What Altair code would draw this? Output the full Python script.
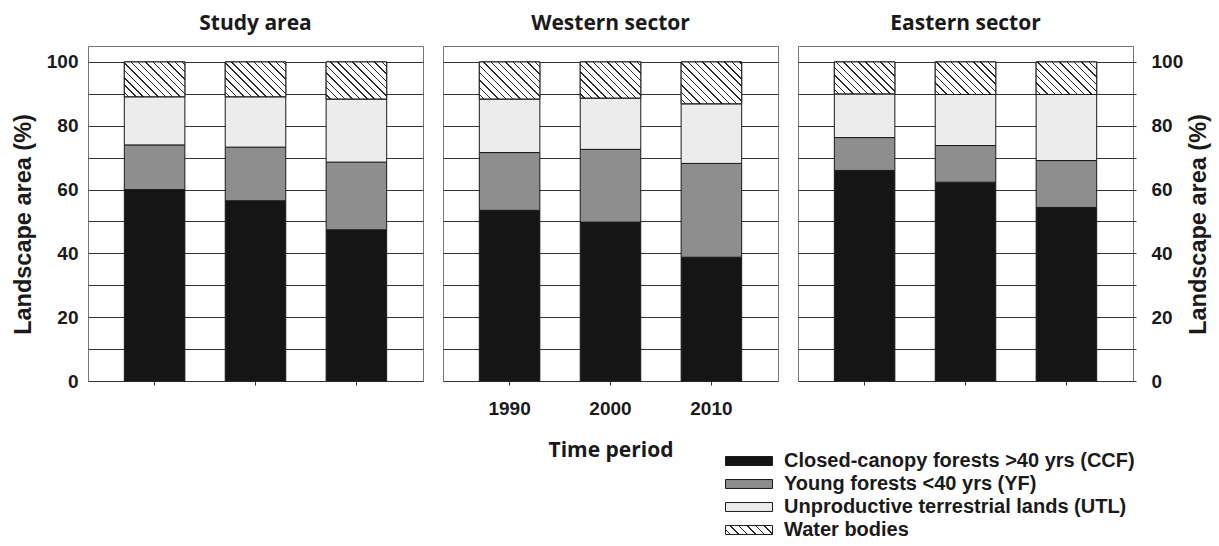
import math
import altair as alt
import pandas as pd

# ---------------- data (percent of landscape area) ----------------
regions = ["Study area", "Western sector", "Eastern sector"]
years = ["1990", "2000", "2010"]
classes = [
    "Closed-canopy forests >40 yrs (CCF)",
    "Young forests <40 yrs (YF)",
    "Unproductive terrestrial lands (UTL)",
    "Water bodies",
]
# rows: Study area, Western sector, Eastern sector ; columns: 1990, 2000, 2010
ccf = [[60.0, 56.5, 47.4], [53.5, 49.8, 38.8], [66.0, 62.3, 54.4]]
yf = [[14.0, 16.8, 21.2], [18.1, 22.8, 29.4], [10.3, 11.5, 14.7]]
utl = [[15.1, 15.8, 19.8], [16.8, 16.1, 18.7], [13.7, 16.0, 20.7]]
water = [[10.9, 10.9, 11.6], [11.6, 11.3, 13.1], [10.0, 10.2, 10.2]]
y_ticks = [0, 10, 20, 30, 40, 50, 60, 70, 80, 90, 100]

# ---------------- styles ----------------
fills = ["#151515", "#8e8e8e", "#ececec", "#ffffff"]
W, H = 335, 335
Y_MAX = 105
PAD_IN, PAD_OUT = 0.4, 0.36
LABEL_FONT = "Liberation Sans"
TITLE_FONT = "Open Sans"
INK = "#1a1a1a"

rows = []
for r, reg in enumerate(regions):
    for c, yr in enumerate(years):
        start = 0.0
        for k, cls in enumerate(classes):
            v = [ccf, yf, utl, water][k][r][c]
            rows.append(dict(region=reg, year=yr, cls=cls, order=k,
                             start=start, end=start + v, value=v))
            start += v
df = pd.DataFrame(rows)

px_per_unit = H / Y_MAX
step = W / (3 - PAD_IN + 2 * PAD_OUT)
band_w = step * (1 - PAD_IN)


def hatch(w, h, spacing=5.2, lw=1.0, ink="#2a2a2a"):
    """Diagonal '\\' hatch as a hard-stop linear gradient (bbox units)."""
    L = (w + h) / math.sqrt(2)
    tm = (w + h) / (w * w + h * h)
    stops = [alt.GradientStop(offset=0, color="white")]
    pos = spacing / 2
    while pos + lw < L:
        a, b = pos / L, (pos + lw) / L
        stops += [alt.GradientStop(offset=a, color="white"),
                  alt.GradientStop(offset=a, color=ink),
                  alt.GradientStop(offset=b, color=ink),
                  alt.GradientStop(offset=b, color="white")]
        pos += spacing
    stops.append(alt.GradientStop(offset=1, color="white"))
    return alt.LinearGradient(gradient="linear", stops=stops,
                              x1=0, y1=1, x2=w * tm, y2=1 - h * tm)


color_scale = alt.Scale(domain=classes, range=fills)
x_scale = alt.Scale(domain=years, paddingInner=PAD_IN, paddingOuter=PAD_OUT)
y_scale = alt.Scale(domain=[0, Y_MAX], nice=False)
label_expr = "datum.value % 20 === 0 ? datum.label : ''"


def y_axis(i):
    common = dict(values=y_ticks, grid=True, gridColor="#333333", gridWidth=1,
                  domain=False)
    if i == 0:
        return alt.Axis(orient="left", labelExpr=label_expr, ticks=False,
                        labelPadding=10, title="Landscape area  (%)",
                        titleFont=LABEL_FONT, titleFontSize=23.5,
                        titleFontWeight="bold", titleColor=INK,
                        titlePadding=11, titleY=178, **common)
    if i == 2:
        return alt.Axis(orient="right", labelExpr=label_expr, ticks=True,
                        tickSize=3, tickColor="#333333", labelPadding=15,
                        title="Landscape area  (%)", titleAngle=270,
                        titleBaseline="top",
                        titleFont=LABEL_FONT, titleFontSize=23.5,
                        titleFontWeight="bold", titleColor=INK,
                        titlePadding=4, titleY=178, **common)
    return alt.Axis(labels=False, ticks=False, title=None, **common)


def x_axis(i):
    if i == 1:
        return alt.Axis(labels=True, labelAngle=0, ticks=True, tickSize=4,
                        tickColor="#333333", labelPadding=14, domain=False,
                        grid=False, title="Time period", titleFont=TITLE_FONT,
                        titleFontSize=21, titleFontWeight="bold",
                        titleColor=INK, titlePadding=21)
    return alt.Axis(labels=False, ticks=True, tickSize=4, tickColor="#333333",
                    domain=False, grid=False, title=None)


def panel(i):
    reg = regions[i]
    d = df[df.region == reg]
    x = alt.X("year:N", scale=x_scale, axis=x_axis(i), sort=years)
    yax = y_axis(i)
    bars = alt.Chart(d).mark_bar(stroke=INK, strokeWidth=1).encode(
        x=x,
        y=alt.Y("start:Q", scale=y_scale, axis=yax),
        y2="end:Q",
        color=alt.Color("cls:N", scale=color_scale, legend=None),
    )
    layers = [bars]
    for c, yr in enumerate(years):
        h = water[i][c] * px_per_unit
        yh = (alt.Y("start:Q", scale=y_scale, axis=None) if i == 1
              else alt.Y("start:Q", scale=y_scale, axis=yax))
        layers.append(
            alt.Chart(d[(d.cls == classes[3]) & (d.year == yr)])
            .mark_bar(fill=hatch(band_w, h), stroke=INK, strokeWidth=1)
            .encode(x=x, y=yh, y2="end:Q")
        )
    if i == 1:
        leg = pd.DataFrame({"row": [0, 1, 2, 3], "cls": classes})
        yleg = alt.Y("row:Q", scale=alt.Scale(domain=[0, 3], range=[415, 484]),
                     axis=None)
        shape = "M-1,-0.19 L1,-0.19 L1,0.19 L-1,0.19 Z"
        sym = alt.Chart(leg[leg.row < 3]).mark_point(
            shape=shape, size=47 * 47, filled=True, stroke=INK,
            strokeWidth=1, opacity=1,
        ).encode(x=alt.value(306), y=yleg,
                 fill=alt.Fill("cls:N", scale=color_scale, legend=None))
        sym_w = alt.Chart(leg[leg.row == 3]).mark_point(
            shape=shape, size=47 * 47, filled=True, fill=hatch(47, 9, spacing=6),
            stroke=INK, strokeWidth=1, opacity=1,
        ).encode(x=alt.value(306), y=yleg)
        txt = alt.Chart(leg).mark_text(
            align="left", baseline="middle", font=LABEL_FONT, fontSize=20,
            fontWeight="bold", color=INK,
        ).encode(x=alt.value(341), y=yleg, text="cls:N")
        layers += [sym, sym_w, txt]
    ch = alt.layer(*layers).properties(
        width=W, height=H,
        title=alt.TitleParams(reg, font=TITLE_FONT, fontSize=21,
                              fontWeight="bold", color=INK, offset=12,
                              anchor="middle"),
    )
    if i == 1:
        ch = ch.resolve_scale(y="independent")
    return ch


chart = (
    alt.hconcat(panel(0), panel(1), panel(2), spacing=20, bounds="flush")
    .properties(padding={"left": 10, "top": 12, "right": 8, "bottom": 4},
                background="white")
    .configure_view(stroke="#777777", strokeWidth=1)
    .configure_axis(labelFont=LABEL_FONT, labelFontSize=19,
                    labelFontWeight="bold", labelColor=INK)
)

chart.save("out.html", embed_options={"renderer": "svg", "actions": False})
